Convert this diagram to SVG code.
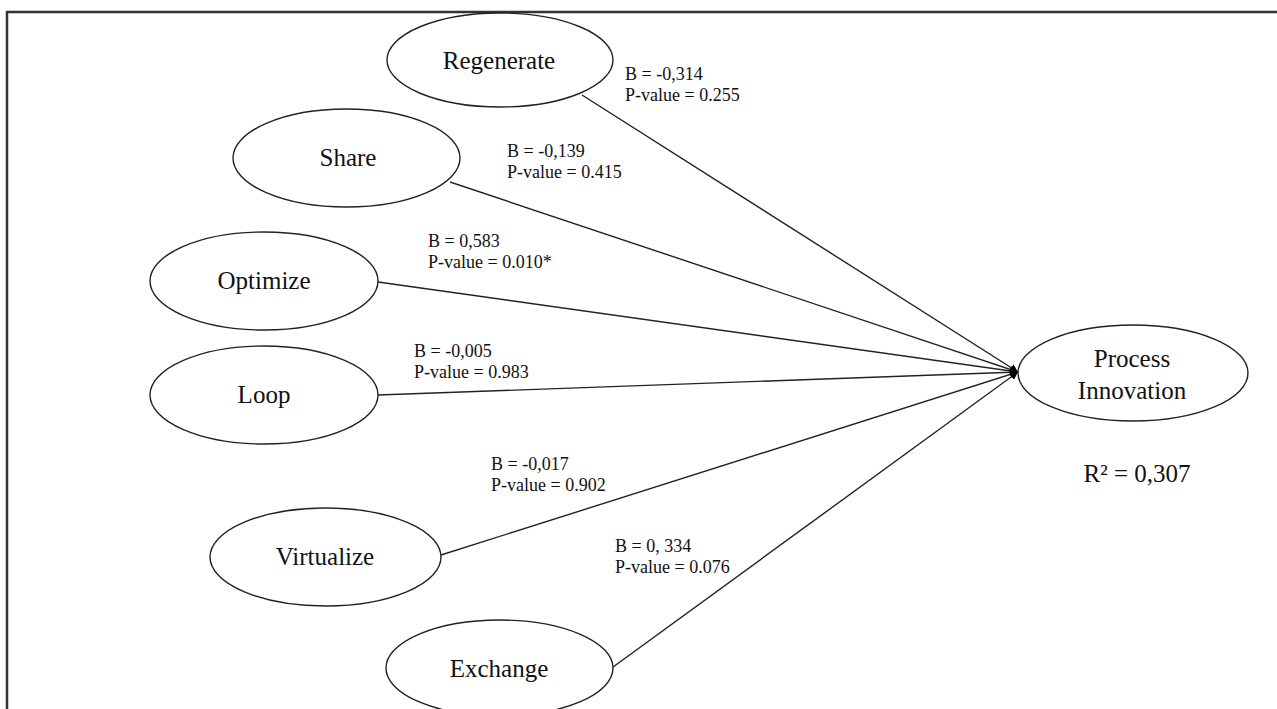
<svg xmlns="http://www.w3.org/2000/svg" width="1277" height="709" viewBox="0 0 1277 709">
<style>
.node{fill:#fff;stroke:#222;stroke-width:1.4}
.nt{font-family:"Liberation Serif","Times New Roman",serif;font-size:25px;fill:#111;text-anchor:middle}
.lb{font-family:"Liberation Serif","Times New Roman",serif;font-size:18px;fill:#111}
.edge{stroke:#222;stroke-width:1.4;fill:none}
</style>
<defs>
<marker id="arr" viewBox="0 0 10 10" refX="10" refY="5" markerWidth="8" markerHeight="8" markerUnits="userSpaceOnUse" orient="auto">
<path d="M0,0 L10,5 L0,10 z" fill="#000"/>
</marker>
</defs>
<rect width="1277" height="709" fill="#fff"/>
<path d="M7,709 V12 H1277" fill="none" stroke="#333" stroke-width="2.5"/>
<g id="connectors">
<line class="edge" x1="582" y1="95" x2="1018" y2="372" marker-end="url(#arr)"/>
<line class="edge" x1="450" y1="182" x2="1018" y2="372" marker-end="url(#arr)"/>
<line class="edge" x1="378" y1="282" x2="1018" y2="372" marker-end="url(#arr)"/>
<line class="edge" x1="378" y1="395" x2="1018" y2="372" marker-end="url(#arr)"/>
<line class="edge" x1="441" y1="555" x2="1018" y2="372" marker-end="url(#arr)"/>
<line class="edge" x1="613" y1="667" x2="1018" y2="372" marker-end="url(#arr)"/>
</g>
<g id="labels">
<text class="lb" x="625" y="80">B = -0,314</text>
<text class="lb" x="625" y="101">P-value = 0.255</text>
<text class="lb" x="507" y="157">B = -0,139</text>
<text class="lb" x="507" y="178">P-value = 0.415</text>
<text class="lb" x="428" y="247">B = 0,583</text>
<text class="lb" x="428" y="268">P-value = 0.010*</text>
<text class="lb" x="414" y="357">B = -0,005</text>
<text class="lb" x="414" y="378">P-value = 0.983</text>
<text class="lb" x="491" y="470">B = -0,017</text>
<text class="lb" x="491" y="491">P-value = 0.902</text>
<text class="lb" x="615" y="552">B = 0, 334</text>
<text class="lb" x="615" y="573">P-value = 0.076</text>
</g>
<g id="regenerate"><ellipse class="node" cx="500" cy="60" rx="113" ry="47"/><text class="nt" x="499" y="69">Regenerate</text></g>
<g id="share"><ellipse class="node" cx="346.5" cy="158" rx="113.5" ry="49"/><text class="nt" x="348" y="166">Share</text></g>
<g id="optimize"><ellipse class="node" cx="264" cy="281" rx="114" ry="49"/><text class="nt" x="264" y="289">Optimize</text></g>
<g id="loop"><ellipse class="node" cx="264" cy="395" rx="114" ry="49"/><text class="nt" x="264" y="403">Loop</text></g>
<g id="virtualize"><ellipse class="node" cx="325.5" cy="557" rx="115.5" ry="49"/><text class="nt" x="325" y="565">Virtualize</text></g>
<g id="exchange"><ellipse class="node" cx="499.5" cy="668" rx="113.5" ry="48"/><text class="nt" x="499" y="677">Exchange</text></g>
<g id="process-innovation"><ellipse class="node" cx="1133" cy="373" rx="115" ry="48"/><text class="nt" x="1132" y="367">Process</text><text class="nt" x="1132" y="399">Innovation</text></g>
<text class="nt" x="1137" y="482">R² = 0,307</text>
</svg>
